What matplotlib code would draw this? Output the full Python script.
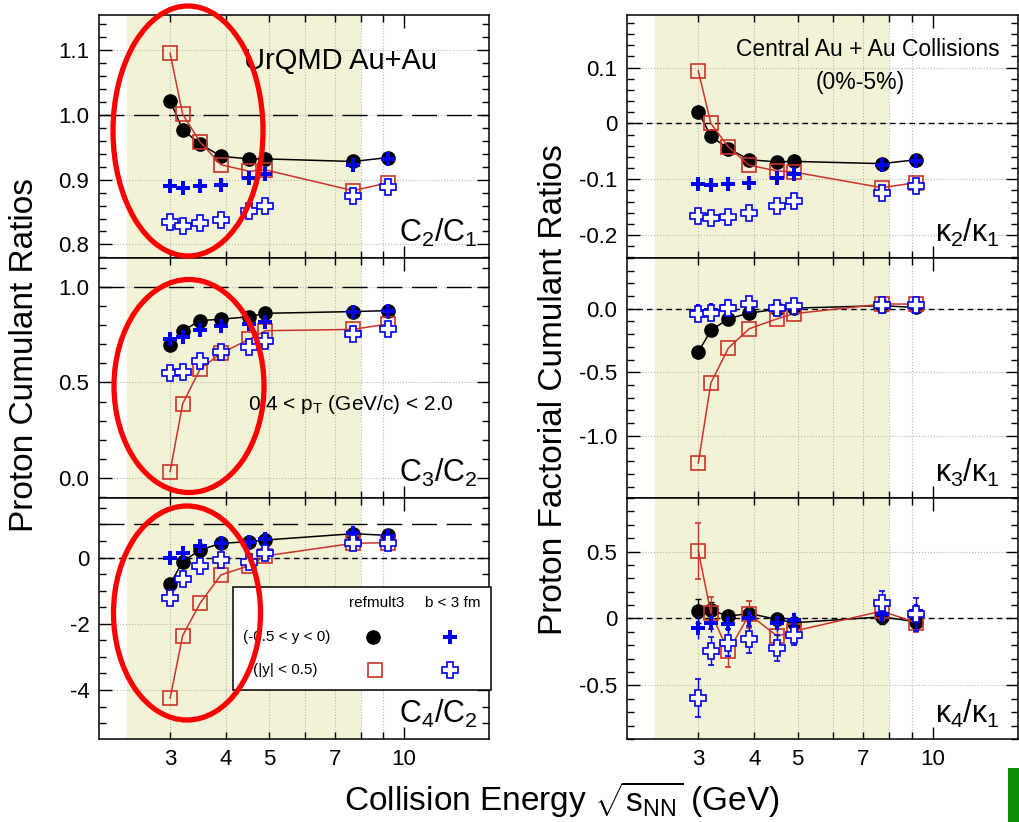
import numpy as np
import matplotlib
matplotlib.use('Agg')
import matplotlib.pyplot as plt
from matplotlib.patches import Ellipse, Rectangle
from matplotlib.ticker import FixedLocator, FixedFormatter, MultipleLocator, NullFormatter

plt.rcParams['font.family'] = ['Liberation Sans', 'DejaVu Sans']
plt.rcParams['mathtext.fontset'] = 'custom'
plt.rcParams['mathtext.rm'] = 'Liberation Sans'
plt.rcParams['mathtext.it'] = 'Liberation Sans'
plt.rcParams['mathtext.bf'] = 'Liberation Sans:bold'

# 数据
energy = [3.0, 3.2, 3.5, 3.9, 4.5, 4.9, 7.7, 9.2]

c21_ref_neg = [1.022, 0.977, 0.955, 0.936, 0.932, 0.932, 0.928, 0.934]
c21_ref_mid = [1.095, 1.001, 0.958, 0.923, 0.913, 0.915, 0.883, 0.895]
c21_b_neg = [0.890, 0.887, 0.890, 0.892, 0.903, 0.908, 0.923, 0.932]
c21_b_mid = [0.834, 0.829, 0.833, 0.838, 0.852, 0.860, 0.874, 0.888]

c32_ref_neg = [0.696, 0.769, 0.823, 0.830, 0.843, 0.861, 0.870, 0.875]
c32_ref_mid = [0.035, 0.388, 0.570, 0.652, 0.725, 0.770, 0.777, 0.805]
c32_b_neg = [0.725, 0.736, 0.774, 0.795, 0.805, 0.817, 0.868, 0.873]
c32_b_mid = [0.548, 0.557, 0.612, 0.657, 0.687, 0.718, 0.753, 0.777]

c42_ref_neg = [-0.81, -0.12, 0.23, 0.43, 0.48, 0.53, 0.72, 0.67]
c42_ref_mid = [-4.25, -2.36, -1.38, -0.52, -0.25, 0.05, 0.43, 0.45]
c42_b_neg = [0.0, 0.15, 0.36, 0.45, 0.48, 0.55, 0.73, 0.66]
c42_b_mid = [-1.23, -0.65, -0.27, -0.07, -0.12, 0.15, 0.43, 0.45]

k21_ref_neg = [0.021, -0.023, -0.045, -0.065, -0.069, -0.068, -0.072, -0.065]
k21_ref_mid = [0.094, 0.0, -0.042, -0.075, -0.085, -0.087, -0.115, -0.106]
k21_b_neg = [-0.109, -0.111, -0.109, -0.106, -0.097, -0.091, -0.075, -0.068]
k21_b_mid = [-0.166, -0.170, -0.167, -0.160, -0.148, -0.139, -0.124, -0.112]

k31_ref_neg = [-0.341, -0.171, -0.079, -0.034, -0.003, 0.005, 0.024, 0.010]
k31_ref_mid = [-1.215, -0.585, -0.310, -0.157, -0.079, -0.039, 0.037, 0.037]
k31_b_neg = [-0.021, -0.013, 0.024, 0.039, 0.013, 0.031, 0.037, 0.013]
k31_b_mid = [-0.042, -0.034, 0.005, 0.037, 0.005, 0.024, 0.031, 0.031]

k41_ref_neg = [0.055, 0.062, 0.017, 0.037, -0.007, -0.032, 0.012, -0.025]
k41_ref_mid = [0.504, 0.042, -0.245, 0.030, -0.132, -0.095, 0.055, -0.032]
k41_b_neg = [-0.070, -0.032, -0.045, 0.005, -0.032, -0.015, 0.030, 0.055]
k41_b_mid = [-0.594, -0.240, -0.182, -0.157, -0.220, -0.120, 0.112, 0.030]
k41_ref_neg_err = [0.09, 0.06, 0.04, 0.05, 0.04, 0.04, 0.05, 0.05]
k41_ref_mid_err = [0.21, 0.12, 0.12, 0.10, 0.09, 0.08, 0.07, 0.07]
k41_b_neg_err = [0.08, 0.07, 0.07, 0.07, 0.06, 0.06, 0.06, 0.06]
k41_b_mid_err = [0.145, 0.105, 0.10, 0.10, 0.10, 0.08, 0.09, 0.12]

x_ticks_minor = [3, 4, 5, 6, 7, 8, 9]
x_minor_labels = ['3', '4', '5', '', '7', '', '']

RED = '#cc3328'
BLUE = '#0000ee'
SHADE = '#f2f2d6'

fig = plt.figure(figsize=(10.19, 8.22), dpi=100)

left_x, right_x = 99 / 1019, 627 / 1019
w_left, w_right = 390 / 1019, 391 / 1019
rows = [(0.6861, 0.2956), (0.3942, 0.2920), (0.1010, 0.2932)]

panels = [
    # (列, 行, 数据, ylim, 主刻度, 刻度标签, 次刻度, 标签, 水平线)
    (0, 0, (c21_ref_neg, c21_ref_mid, c21_b_neg, c21_b_mid), (0.779, 1.154),
     [0.8, 0.9, 1.0, 1.1], ['0.8', '0.9', '1.0', '1.1'], 0.02, r'C$_2$/C$_1$', [(1.0, 'long')]),
    (0, 1, (c32_ref_neg, c32_ref_mid, c32_b_neg, c32_b_mid), (-0.103, 1.15),
     [0.0, 0.5, 1.0], ['0.0', '0.5', '1.0'], 0.1, r'C$_3$/C$_2$', [(1.0, 'long')]),
    (0, 2, (c42_ref_neg, c42_ref_mid, c42_b_neg, c42_b_mid), (-5.48, 1.8),
     [-4, -2, 0], ['-4', '-2', '0'], 0.5, r'C$_4$/C$_2$', [(1.0, 'long'), (0.0, 'short')]),
    (1, 0, (k21_ref_neg, k21_ref_mid, k21_b_neg, k21_b_mid), (-0.241, 0.194),
     [-0.2, -0.1, 0.0, 0.1], ['-0.2', '-0.1', '0', '0.1'], 0.02, r'$\kappa_2/\kappa_1$', [(0.0, 'short')]),
    (1, 1, (k31_ref_neg, k31_ref_mid, k31_b_neg, k31_b_mid), (-1.49, 0.40),
     [-1.0, -0.5, 0.0], ['-1.0', '-0.5', '0.0'], 0.1, r'$\kappa_3/\kappa_1$', [(0.0, 'short')]),
    (1, 2, (k41_ref_neg, k41_ref_mid, k41_b_neg, k41_b_mid), (-0.90, 0.90),
     [-0.5, 0.0, 0.5], ['-0.5', '0', '0.5'], 0.1, r'$\kappa_4/\kappa_1$', [(0.0, 'short')]),
]

errs = {(1, 2): (k41_ref_neg_err, k41_ref_mid_err, k41_b_neg_err, k41_b_mid_err)}

axes = {}
for col, row, data, ylim, yt, ytl, yminor, label, hlines in panels:
    x0 = left_x if col == 0 else right_x
    w = w_left if col == 0 else w_right
    b, h = rows[row]
    ax = fig.add_axes([x0, b, w, h])
    axes[(col, row)] = ax
    ax.set_xscale('log')
    ax.set_xlim(2.08, 15.5)
    ax.set_ylim(*ylim)
    ax.axvspan(2.4, 8.0, color=SHADE, zorder=0, lw=0)

    # 网格
    for xv in x_ticks_minor:
        ax.axvline(xv, color='#b4b4b4', ls=':', lw=0.8, zorder=1)
    for yv in yt:
        ax.axhline(yv, color='#b4b4b4', ls=':', lw=0.8, zorder=1)
    for yv, style in hlines:
        if style == 'long':
            ax.axhline(yv, color='black', lw=1.0, dashes=(18, 7), zorder=2)
        else:
            ax.axhline(yv, color='black', lw=1.0, dashes=(4, 3), zorder=2)

    ref_neg, ref_mid, b_neg, b_mid = data
    e = errs.get((col, row))
    if e is None:
        ax.plot(energy, ref_neg, '-o', color='black', lw=1.1, ms=9.5, zorder=4)
        ax.plot(energy, ref_mid, '-s', color=RED, mec=RED, mfc='none', mew=1.2, lw=1.1, ms=9.5, zorder=5)
        ax.plot(energy, b_neg, 'P', color=BLUE, ms=10.5, mew=0, zorder=6)
        ax.plot(energy, b_mid, 'P', mec=BLUE, mfc='white', mew=1.2, ms=11, zorder=7)
    else:
        ax.errorbar(energy, ref_neg, yerr=e[0], fmt='-o', color='black', lw=1.1, ms=9.5,
                    elinewidth=1.0, capsize=2, zorder=4)
        ax.errorbar(energy, ref_mid, yerr=e[1], fmt='-s', color=RED, mec=RED, mfc='none', mew=1.2,
                    lw=1.1, ms=9.5, elinewidth=1.0, capsize=2, zorder=5)
        ax.errorbar(energy, b_neg, yerr=e[2], fmt='P', color=BLUE, ms=10.5, mew=0,
                    elinewidth=1.0, capsize=2, zorder=6)
        ax.errorbar(energy, b_mid, yerr=e[3], fmt='P', color=BLUE, mec=BLUE, mfc='white', mew=1.2,
                    ms=11, elinewidth=1.0, capsize=2, zorder=7)

    # 刻度
    ax.xaxis.set_major_locator(FixedLocator([10]))
    ax.xaxis.set_minor_locator(FixedLocator(x_ticks_minor))
    if row == 2:
        ax.xaxis.set_major_formatter(FixedFormatter(['10']))
        ax.xaxis.set_minor_formatter(FixedFormatter(x_minor_labels))
    else:
        ax.xaxis.set_major_formatter(NullFormatter())
        ax.xaxis.set_minor_formatter(NullFormatter())
    ax.yaxis.set_major_locator(FixedLocator(yt))
    ax.yaxis.set_major_formatter(FixedFormatter(ytl))
    ax.yaxis.set_minor_locator(MultipleLocator(yminor))
    ax.tick_params(which='both', direction='in', top=True, right=True, labelsize=16, width=1.0)
    ax.tick_params(which='major', length=9, pad=7)
    ax.tick_params(which='minor', length=5, pad=7)
    for s in ax.spines.values():
        s.set_linewidth(1.1)

    ax.text(0.972 if col == 0 else 0.952, 0.105, label, transform=ax.transAxes,
            ha='right', va='center', fontsize=22, zorder=10)

# 面板注释
axes[(0, 0)].text(0.62, 0.81, 'UrQMD Au+Au', transform=axes[(0, 0)].transAxes,
                  ha='center', va='center', fontsize=21)
axes[(1, 0)].text(0.617, 0.86, 'Central Au + Au Collisions', transform=axes[(1, 0)].transAxes,
                  ha='center', va='center', fontsize=16.5)
axes[(1, 0)].text(0.596, 0.724, '(0%-5%)', transform=axes[(1, 0)].transAxes,
                  ha='center', va='center', fontsize=16.5)
axes[(0, 1)].text(0.645, 0.39, r'0.4 < p$_{\rm T}$ (GeV/c) < 2.0', transform=axes[(0, 1)].transAxes,
                  ha='center', va='center', fontsize=15)

# 图例（手工画）
lax = axes[(0, 2)]
lax.add_patch(Rectangle((0.344, 0.203), 0.66, 0.428, transform=lax.transAxes,
                        facecolor='white', edgecolor='black', lw=1.1, zorder=20, clip_on=False))
lax.text(0.711, 0.565, 'refmult3', transform=lax.transAxes, ha='center', va='center', fontsize=11, zorder=21)
lax.text(0.908, 0.565, 'b < 3 fm', transform=lax.transAxes, ha='center', va='center', fontsize=11, zorder=21)
lax.text(0.369, 0.423, '(-0.5 < y < 0)', transform=lax.transAxes, ha='left', va='center', fontsize=11, zorder=21)
lax.text(0.395, 0.286, '(|y| < 0.5)', transform=lax.transAxes, ha='left', va='center', fontsize=11, zorder=21)
lax.plot([0.703], [0.423], 'o', color='black', ms=9.5, transform=lax.transAxes, zorder=22, clip_on=False)
lax.plot([0.900], [0.423], 'P', color=BLUE, ms=10.5, mew=0, transform=lax.transAxes, zorder=22, clip_on=False)
lax.plot([0.708], [0.286], 's', mec=RED, mfc='none', mew=1.2, ms=9.5, transform=lax.transAxes, zorder=22, clip_on=False)
lax.plot([0.900], [0.286], 'P', mec=BLUE, mfc='white', mew=1.2, ms=11, transform=lax.transAxes, zorder=22, clip_on=False)

# 轴标题
fig.text(25 / 1019, 1 - 355 / 822, 'Proton Cumulant Ratios', rotation=90, ha='center', va='center', fontsize=24)
fig.text(553 / 1019, 1 - 390 / 822, 'Proton Factorial Cumulant Ratios', rotation=90, ha='center', va='center', fontsize=24)
fig.text(562 / 1019, 1 - 800 / 822, r'Collision Energy $\sqrt{\rm s_{NN}}$ (GeV)', ha='center', va='center', fontsize=24)

# 红色椭圆
for cx, cy, ew, eh in [(188, 131, 150, 250), (189, 386, 150, 213), (187, 613, 147, 214)]:
    fig.patches.append(Ellipse((cx / 1019, 1 - cy / 822), ew / 1019, eh / 822, transform=fig.transFigure,
                               fill=False, edgecolor='#ff0000', lw=3.8, zorder=30))

# 右下角绿色块
fig.patches.append(Rectangle((1008 / 1019, 0), 11 / 1019, 54 / 822, transform=fig.transFigure,
                             facecolor='#0b8f0b', edgecolor='none', zorder=30))

plt.savefig('out.png', dpi=100)
